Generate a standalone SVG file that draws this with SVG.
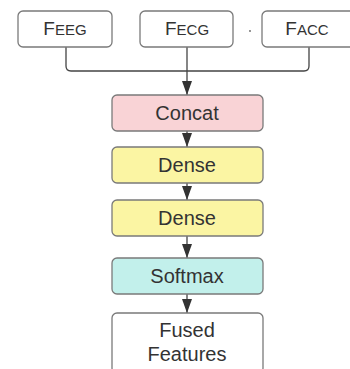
<svg xmlns="http://www.w3.org/2000/svg" width="350" height="369" viewBox="0 0 350 369">
<defs>
<style>
.box{stroke:#7a7a7a;stroke-width:1.3}
.t{font-family:"Liberation Sans",Arial,sans-serif;font-size:20px;fill:#333;text-anchor:middle}
.f{font-size:19px}
.s{font-size:15px}
.c{fill:none;stroke:#444;stroke-width:1.3}
</style>
<marker id="ah" viewBox="0 0 14 10" refX="14" refY="5" markerWidth="14" markerHeight="10" markerUnits="userSpaceOnUse" orient="auto">
<path d="M0,0 L14,5 L0,10 z" fill="#333"/>
</marker>
</defs>
<rect width="350" height="369" fill="#fff"/>
<g id="connectors">
<path class="c" d="M66,47 V66 Q66,71 71,71 H304 Q309,71 309,66 V47"/>
<path class="c" d="M187,47 V95" marker-end="url(#ah)"/>
<path class="c" d="M187,131 V147" marker-end="url(#ah)"/>
<path class="c" d="M187,183 V200" marker-end="url(#ah)"/>
<path class="c" d="M187,236 V258" marker-end="url(#ah)"/>
<path class="c" d="M187,294 V313" marker-end="url(#ah)"/>
</g>
<g id="feeg"><rect class="box" x="18" y="11" width="94" height="36" rx="5" fill="#fff"/><text class="t f" x="65" y="35">F<tspan class="s">EEG</tspan></text></g>
<g id="fecg"><rect class="box" x="140" y="11" width="93" height="36" rx="5" fill="#fff"/><text class="t f" x="187" y="35">F<tspan class="s">ECG</tspan></text></g>
<g id="dot"><circle cx="250" cy="31" r="0.9" fill="#666"/></g>
<g id="facc"><rect class="box" x="262" y="11" width="94" height="36" rx="5" fill="#fff"/><text class="t f" x="307" y="35">F<tspan class="s">ACC</tspan></text></g>
<g id="concat"><rect class="box" x="112" y="95" width="151" height="36" rx="5" fill="#f9d3d6"/><text class="t" x="187" y="120">Concat</text></g>
<g id="dense1"><rect class="box" x="112" y="147" width="151" height="36" rx="5" fill="#fbf5a3"/><text class="t" x="187" y="172">Dense</text></g>
<g id="dense2"><rect class="box" x="112" y="200" width="151" height="36" rx="5" fill="#fbf5a3"/><text class="t" x="187" y="225">Dense</text></g>
<g id="softmax"><rect class="box" x="112" y="258" width="151" height="36" rx="5" fill="#c2f0eb"/><text class="t" x="187" y="283">Softmax</text></g>
<g id="fused"><rect class="box" x="112" y="313" width="151" height="60" rx="5" fill="#fff"/><text class="t" x="187" y="337">Fused</text><text class="t" x="187" y="361">Features</text></g>
</svg>
